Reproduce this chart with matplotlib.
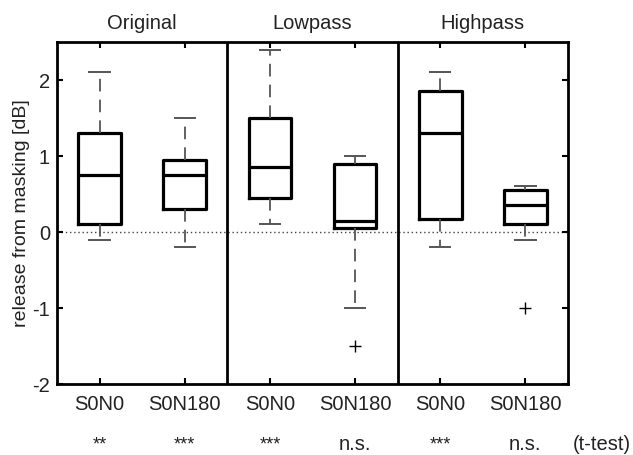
import matplotlib
matplotlib.use("Agg")
import matplotlib.pyplot as plt

plt.rcParams['font.family'] = ['Liberation Sans', 'DejaVu Sans']

conditions = ["S0N0", "S0N180", "S0N0", "S0N180", "S0N0", "S0N180"]
groups = ["Original", "Lowpass", "Highpass"]
whisker_low = [-0.1, -0.2, 0.1, -1.0, -0.2, -0.1]
q1 = [0.1, 0.3, 0.45, 0.05, 0.17, 0.1]
median = [0.75, 0.75, 0.85, 0.15, 1.3, 0.35]
q3 = [1.3, 0.95, 1.5, 0.9, 1.85, 0.55]
whisker_high = [2.1, 1.5, 2.4, 1.0, 2.1, 0.6]
outliers = [[], [], [], [-1.5], [], [-1.0]]
significance = ["**", "***", "***", "n.s.", "***", "n.s."]
test_label = "(t-test)"
yticks = [-2, -1, 0, 1, 2]

fig = plt.figure(figsize=(6.33, 4.55), dpi=100)
ax = fig.add_axes([57/633, 1-384/455, (568-57)/633, (384-42)/455])

positions = list(range(1, len(conditions) + 1))
stats = []
for i in range(len(conditions)):
    stats.append(dict(whislo=whisker_low[i], q1=q1[i], med=median[i], q3=q3[i],
                      whishi=whisker_high[i], fliers=outliers[i], label=conditions[i]))

ax.bxp(stats, positions=positions, widths=0.5, capwidths=0.24,
       boxprops=dict(color='black', linewidth=2.3),
       medianprops=dict(color='black', linewidth=2.3),
       whiskerprops=dict(color='#555555', linewidth=1.3, linestyle=(0, (7, 4.5))),
       capprops=dict(color='#555555', linewidth=1.4),
       flierprops=dict(marker='+', markeredgecolor='black', markersize=8, markeredgewidth=1.0))

ax.axhline(0, color='#444444', linestyle=(0, (1, 2)), linewidth=1.0, zorder=0)
for sep in [2.5, 4.5]:
    ax.axvline(sep, color='black', linewidth=2.0)

ax.set_xlim(0.5, 6.5)
ax.set_ylim(-2, 2.5)
ax.set_yticks(yticks)
ax.set_yticklabels([str(t) for t in yticks])
ax.set_xticks(positions)
ax.set_xticklabels(conditions)
ax.tick_params(direction='in', length=4, width=1.5, top=True, right=True,
               labelsize=14.5, colors='black', labelcolor='#222222')
ax.tick_params(axis='x', pad=8)
ax.tick_params(axis='y', pad=5)
for s in ax.spines.values():
    s.set_linewidth(2.0)
ax.set_ylabel("release from masking [dB]", fontsize=14, color='#222222')
ax.yaxis.set_label_coords(-0.053, 0.5)

for gi, g in enumerate(groups):
    ax.text(gi * 2 + 1.5, 1.053, g, transform=ax.get_xaxis_transform(),
            ha='center', va='center', fontsize=14.5, color='#222222')

for i, s in enumerate(significance):
    ax.text(positions[i], -0.178, s, transform=ax.get_xaxis_transform(),
            ha='center', va='center', fontsize=14.5 if s == "n.s." else 13, color='#222222')
ax.text(6.9, -0.178, test_label, transform=ax.get_xaxis_transform(),
        ha='center', va='center', fontsize=14.5, color='#222222')

fig.savefig("out.png", dpi=100)
